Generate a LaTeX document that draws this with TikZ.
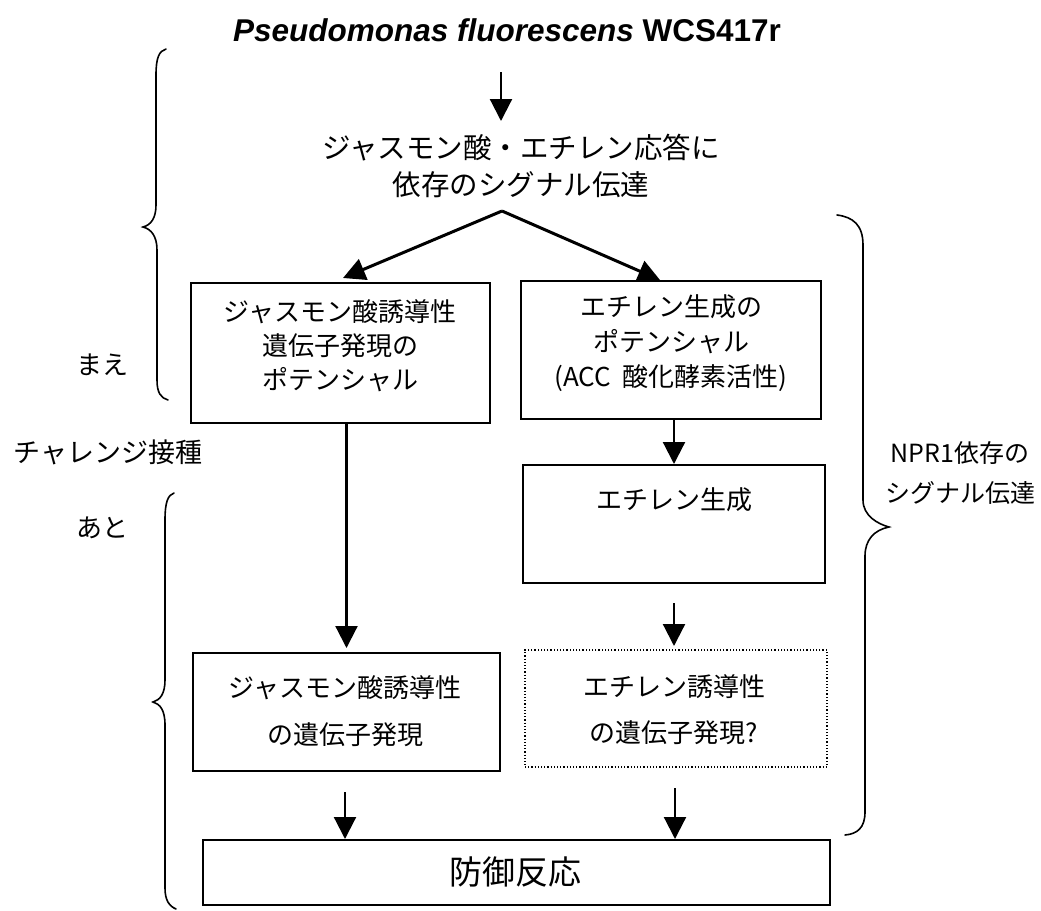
\documentclass[tikz,border=0pt]{standalone}
\usepackage{fontspec}
\setmainfont{Noto Sans CJK JP}
\newfontfamily\titlefont{Liberation Sans}
\usetikzlibrary{arrows.meta}
\begin{document}
\begin{tikzpicture}[x=1pt,y=-1pt,
  box/.style={draw, line width=2pt, inner sep=0pt},
  dbox/.style={draw, line width=1.2pt, dotted, inner sep=0pt},
  lbl/.style={align=center, inner sep=0pt, font=\fontsize{26}{34}\selectfont},
  arr/.style={line width=2.2pt, -{Triangle[length=22pt,width=22pt]}},
  brace/.style={line width=1.6pt, line cap=round}]
\useasboundingbox (0,0) rectangle (1041,910);

% title
\node[inner sep=0pt, font=\titlefont\bfseries\fontsize{31.5}{36}\selectfont] (title) at (507,30)
  {\itshape Pseudomonas fluorescens \upshape WCS417r};

% top text
\node[lbl, font=\fontsize{28.5}{37}\selectfont] (top) at (521,166)
  {ジャスモン酸・エチレン応答に\\依存のシグナル伝達};

% boxes
\node[box, minimum width=299pt, minimum height=140pt] (A) at (340.5,353) {};
\node[box, minimum width=300pt, minimum height=138pt] (B) at (671,350) {};
\node[box, minimum width=302pt, minimum height=118pt] (C) at (674,524) {};
\node[box, minimum width=307pt, minimum height=118pt] (D) at (346.5,712) {};
\node[dbox, minimum width=302pt, minimum height=117pt] (E) at (676,708.5) {};
\node[box, minimum width=627pt, minimum height=65pt] (F) at (516.5,872.5) {};

% box texts
\node[lbl] (At) at (340,346) {ジャスモン酸誘導性\\遺伝子発現の\\ポテンシャル};
\node[lbl, font=\fontsize{26}{35}\selectfont] (Bt) at (671,343) {エチレン生成の\\ポテンシャル\\(ACC\ \ 酸化酵素活性)};
\node[lbl] (Ct) at (674,500) {エチレン生成};
\node[lbl, font=\fontsize{26}{47}\selectfont] (Dt) at (345,711) {ジャスモン酸誘導性\\の遺伝子発現};
\node[lbl, font=\fontsize{26}{46}\selectfont] (Et) at (674,710) {エチレン誘導性\\の遺伝子発現?};
\node[lbl, font=\fontsize{33}{40}\selectfont] (Ft) at (515,872) {防御反応};

% side labels
\node[lbl] (mae) at (102,365) {まえ};
\node[lbl, font=\fontsize{27}{34}\selectfont] (chal) at (108,452) {チャレンジ接種};
\node[lbl] (ato) at (102,528) {あと};
\node[lbl, font=\fontsize{25}{40}\selectfont] (npr) at (960,473) {NPR1依存の\\シグナル伝達};

% connector coordinates
\coordinate (s1) at (501,72);
\coordinate (e1) at (501,121);
\coordinate (apex) at (502,211);
\coordinate (tA) at (343,278);
\coordinate (tB) at (660,280);
\coordinate (c1) at (674,603);
\coordinate (c2) at (674,646);
\coordinate (d1) at (345,792);
\coordinate (e2) at (675,788);

% arrows
\draw[arr] (s1) -- (e1);
\draw[arr, line width=3pt] (apex) -- (tA);
\draw[arr, line width=3pt] (apex) -- (tB);
\draw[arr, shorten >=4pt] (A.south -| D.north) -- (D.north);
\draw[arr] (B.south -| C.north) -- (C.north);
\draw[arr] (c1) -- (c2);
\draw[arr] (d1) -- (d1 |- F.north);
\draw[arr] (e2) -- (e2 |- F.north);

% braces
\draw[brace] (166,49) .. controls (159,51) and (156,58) .. (156,75) -- (156,205)
  .. controls (156,218) and (151,225) .. (143,227)
  .. controls (151,229) and (157,236) .. (157,250) -- (157,380)
  .. controls (157,393) and (161,398) .. (168,400);
\draw[brace] (174,493) .. controls (168,495) and (165,502) .. (165,520) -- (165,680)
  .. controls (165,694) and (160,700) .. (153,702)
  .. controls (160,704) and (165,710) .. (165,725) -- (165,888)
  .. controls (165,900) and (169,906) .. (176,909);
\draw[brace] (837,215) .. controls (853,217) and (863,225) .. (863,245) -- (863,500)
  .. controls (863,516) and (878,524) .. (889,527)
  .. controls (874,530) and (865,540) .. (865,556) -- (865,812)
  .. controls (865,828) and (857,834) .. (845,835);
\end{tikzpicture}
\end{document}
